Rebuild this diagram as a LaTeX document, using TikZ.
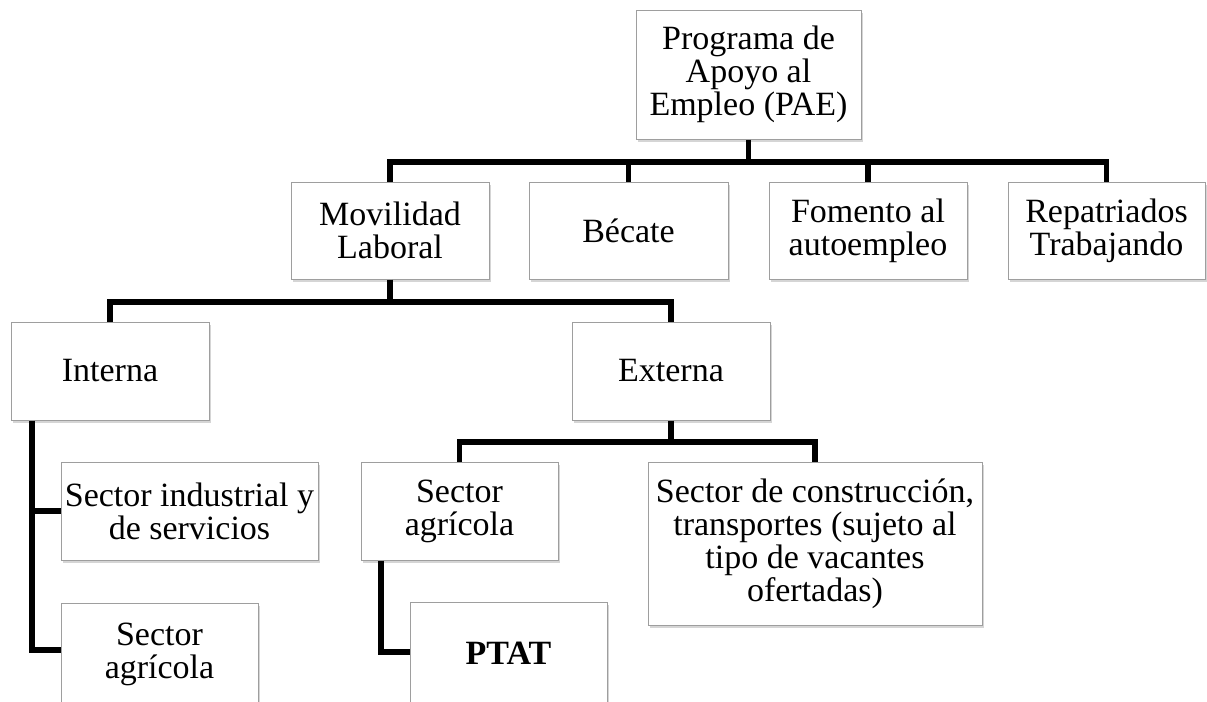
\documentclass[tikz,border=0pt]{standalone}
\usepackage{fontspec}
\setmainfont{Liberation Serif}
\usetikzlibrary{shadows}
\begin{document}
\begin{tikzpicture}[x=0.75pt,y=-0.75pt,
  box/.style 2 args={draw=black!38, line width=0.75pt, fill=white,
    minimum width=#1*0.75pt, minimum height=#2*0.75pt, inner sep=0pt,
    align=center, font=\fontsize{25.5}{24.8}\selectfont,
    drop shadow={shadow xshift=1.5pt, shadow yshift=-2pt, fill=black!30, opacity=0.55}},
  conn/.style={line width=3.8pt, black, line join=miter}]
\useasboundingbox (0,0) rectangle (1207,701);
% level 1
\node[box={225}{129}] (pae) at (748.5,74.5) {Programa de\\Apoyo al\\Empleo (PAE)};
% level 2
\node[box={198}{97}] (mov) at (390,230.5) {Movilidad\\Laboral};
\node[box={199}{97}] (bec) at (628.5,230.5) {Bécate};
\node[box={198}{97}] (fom) at (868,230.5) {Fomento al\\autoempleo};
\node[box={197}{97}] (rep) at (1106.5,230.5) {Repatriados\\Trabajando};
% level 3
\node[box={198}{98}] (int) at (110,371) {Interna};
\node[box={198}{98}] (ext) at (671,371) {Externa};
% level 4
\node[box={257}{98}] (sind) at (189.5,511) {Sector industrial y\\de servicios};
\node[box={197}{102}] (sagi) at (159.5,654) {Sector\\agrícola};
\node[box={197}{98}] (sage) at (459.5,511) {Sector\\agrícola};
\node[box={334}{163}] (scon) at (815,543.5) {Sector de construcción,\\transportes (sujeto al\\tipo de vacantes\\ofertadas)};
\node[box={197}{102}] (ptat) at (508.5,653) {\bfseries PTAT};
% helper coordinates
\coordinate (l2) at (0,162);
\coordinate (l3) at (0,302);
\coordinate (l4) at (0,442);
\coordinate (tr) at (32,0);
\coordinate (ja) at (32,650);
\coordinate (jb) at (381,652);
% connectors
\draw[conn] (pae.south) -- (pae.south |- l2);
\draw[conn] (mov.north) -- (mov.north |- l2) -- (rep.north |- l2) -- (rep.north);
\draw[conn] (bec.north) -- (bec.north |- l2);
\draw[conn] (fom.north) -- (fom.north |- l2);
\draw[conn] (mov.south) -- (mov.south |- l3);
\draw[conn] (int.north) -- (int.north |- l3) -- (ext.north |- l3) -- (ext.north);
\draw[conn] (ext.south) -- (ext.south |- l4);
\draw[conn] (sage.north) -- (sage.north |- l4) -- (scon.north |- l4) -- (scon.north);
\draw[conn] (int.south -| tr) -- (ja) -- (ja -| sagi.west);
\draw[conn] (tr |- sind.west) -- (sind.west);
\draw[conn] (sage.south -| jb) -- (jb) -- (jb -| ptat.west);
\end{tikzpicture}
\end{document}
